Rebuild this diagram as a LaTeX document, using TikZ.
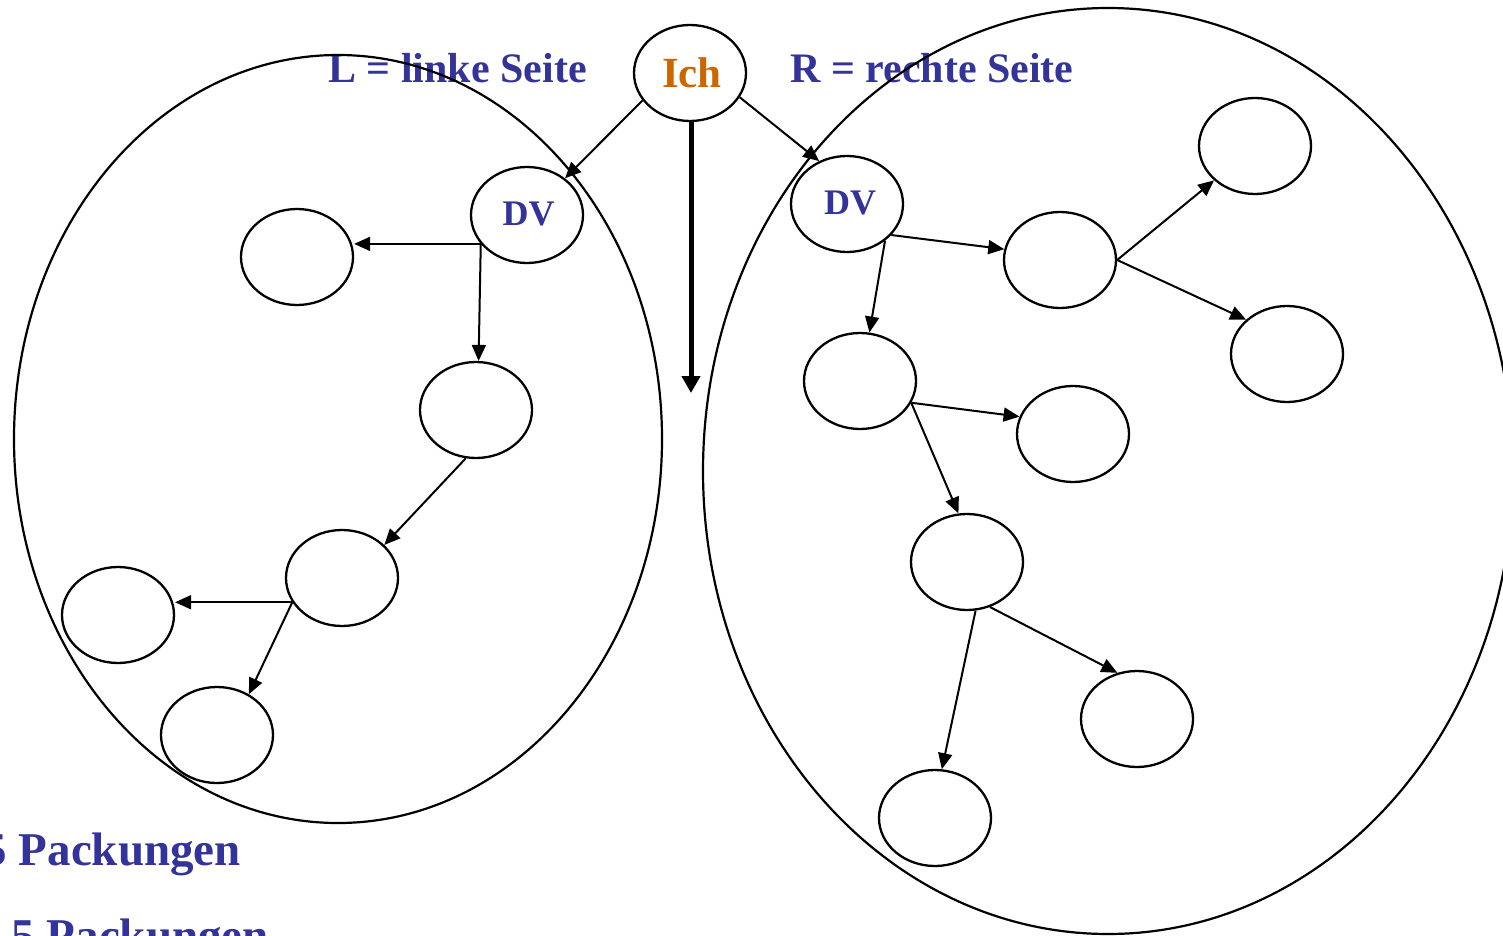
\documentclass[tikz,border=0pt]{standalone}
\usepackage{fontspec}
\setmainfont{Liberation Serif}
\usetikzlibrary{shapes.geometric,arrows.meta}
\definecolor{lblue}{RGB}{51,51,153}
\definecolor{iorange}{RGB}{204,102,0}
\begin{document}
\begin{tikzpicture}[x=1pt,y=-1pt,
  blob/.style={draw,ellipse,line width=2.3pt,minimum width=112pt,minimum height=96pt,inner sep=0pt},
  conn/.style={line width=2pt,-{Triangle[length=16pt,width=14pt]}},
  bigconn/.style={line width=5pt,-{Triangle[length=17pt,width=18pt]}},
  lbl/.style={text=lblue,font=\bfseries\fontsize{42}{48}\selectfont,inner sep=0pt},
  pk/.style={text=lblue,font=\bfseries\fontsize{47}{54}\selectfont,inner sep=0pt},
  dvt/.style={text=lblue,font=\bfseries\fontsize{36}{40}\selectfont,text depth=2pt}]
\useasboundingbox (0,0) rectangle (1503,936);
\clip (0,0) rectangle (1503,936);

% labels
\node[lbl,anchor=base west] (Lt) at (328,83) {L = linke Seite};
\node[lbl,anchor=base west] (Rt) at (790,83) {R = rechte Seite};
\node[pk,anchor=base east] (P1) at (241,865) {5 Packungen};
\node[pk,anchor=base east] (P2) at (269,951) {5 Packungen};

% big ellipses
\draw[line width=2.2pt] (338,439) ellipse [x radius=324, y radius=384];
\draw[line width=2.2pt] (1108,471) ellipse [x radius=405, y radius=463];

% small nodes
\node[blob,text=iorange,font=\bfseries\fontsize{43}{48}\selectfont,text depth=1pt] (Ich) at (690,73) {\hspace*{4pt}Ich};
\node[blob,dvt] (DVL) at (527,215) {\hspace*{3pt}DV};
\node[blob] (L1) at (297,257) {};
\node[blob] (L2) at (476,410) {};
\node[blob] (L3) at (342,578) {};
\node[blob] (L4) at (118,615) {};
\node[blob] (L5) at (217,735) {};
\node[blob,dvt] (DVR) at (847,204) {\hspace*{6pt}DV};
\node[blob] (R1) at (1060,260) {};
\node[blob] (R2) at (1255,146) {};
\node[blob] (R3) at (1287,354) {};
\node[blob] (R4) at (860,381) {};
\node[blob] (R5) at (1073,434) {};
\node[blob] (R6) at (967,562) {};
\node[blob] (R7) at (1137,719) {};
\node[blob] (R8) at (935,818) {};
\coordinate (down) at (691,393);

% connectors
\draw[conn] (Ich.210) -- (DVL.44);
\draw[conn] (Ich.334) -- (DVR.123);
\draw[bigconn] (Ich.south) ++(1,0) -- (down);

\draw[conn] (DVL.212) -- (DVL.212 -| L1.east);
\draw[conn] (DVL.212) -- (L2.87);
\draw[conn] (L2.258) -- (L3.38);
\draw[conn] (L3.206) -- (L3.206 -| L4.east);
\draw[conn] (L3.206) -- (L5.52);

\draw[conn] (DVR.325) -- (R1.169);
\draw[conn] (DVR.316) -- (R4.79);
\draw[conn] (R1.east) -- (R2.220);
\draw[conn] (R1.east) -- (R3.140);
\draw[conn] (R4.337) -- (R5.162);
\draw[conn] (R4.337) -- (R6.100);
\draw[conn] (R6.280) -- (R8.82);
\draw[conn] (R6.297) -- (R7.113);
\end{tikzpicture}
\end{document}
